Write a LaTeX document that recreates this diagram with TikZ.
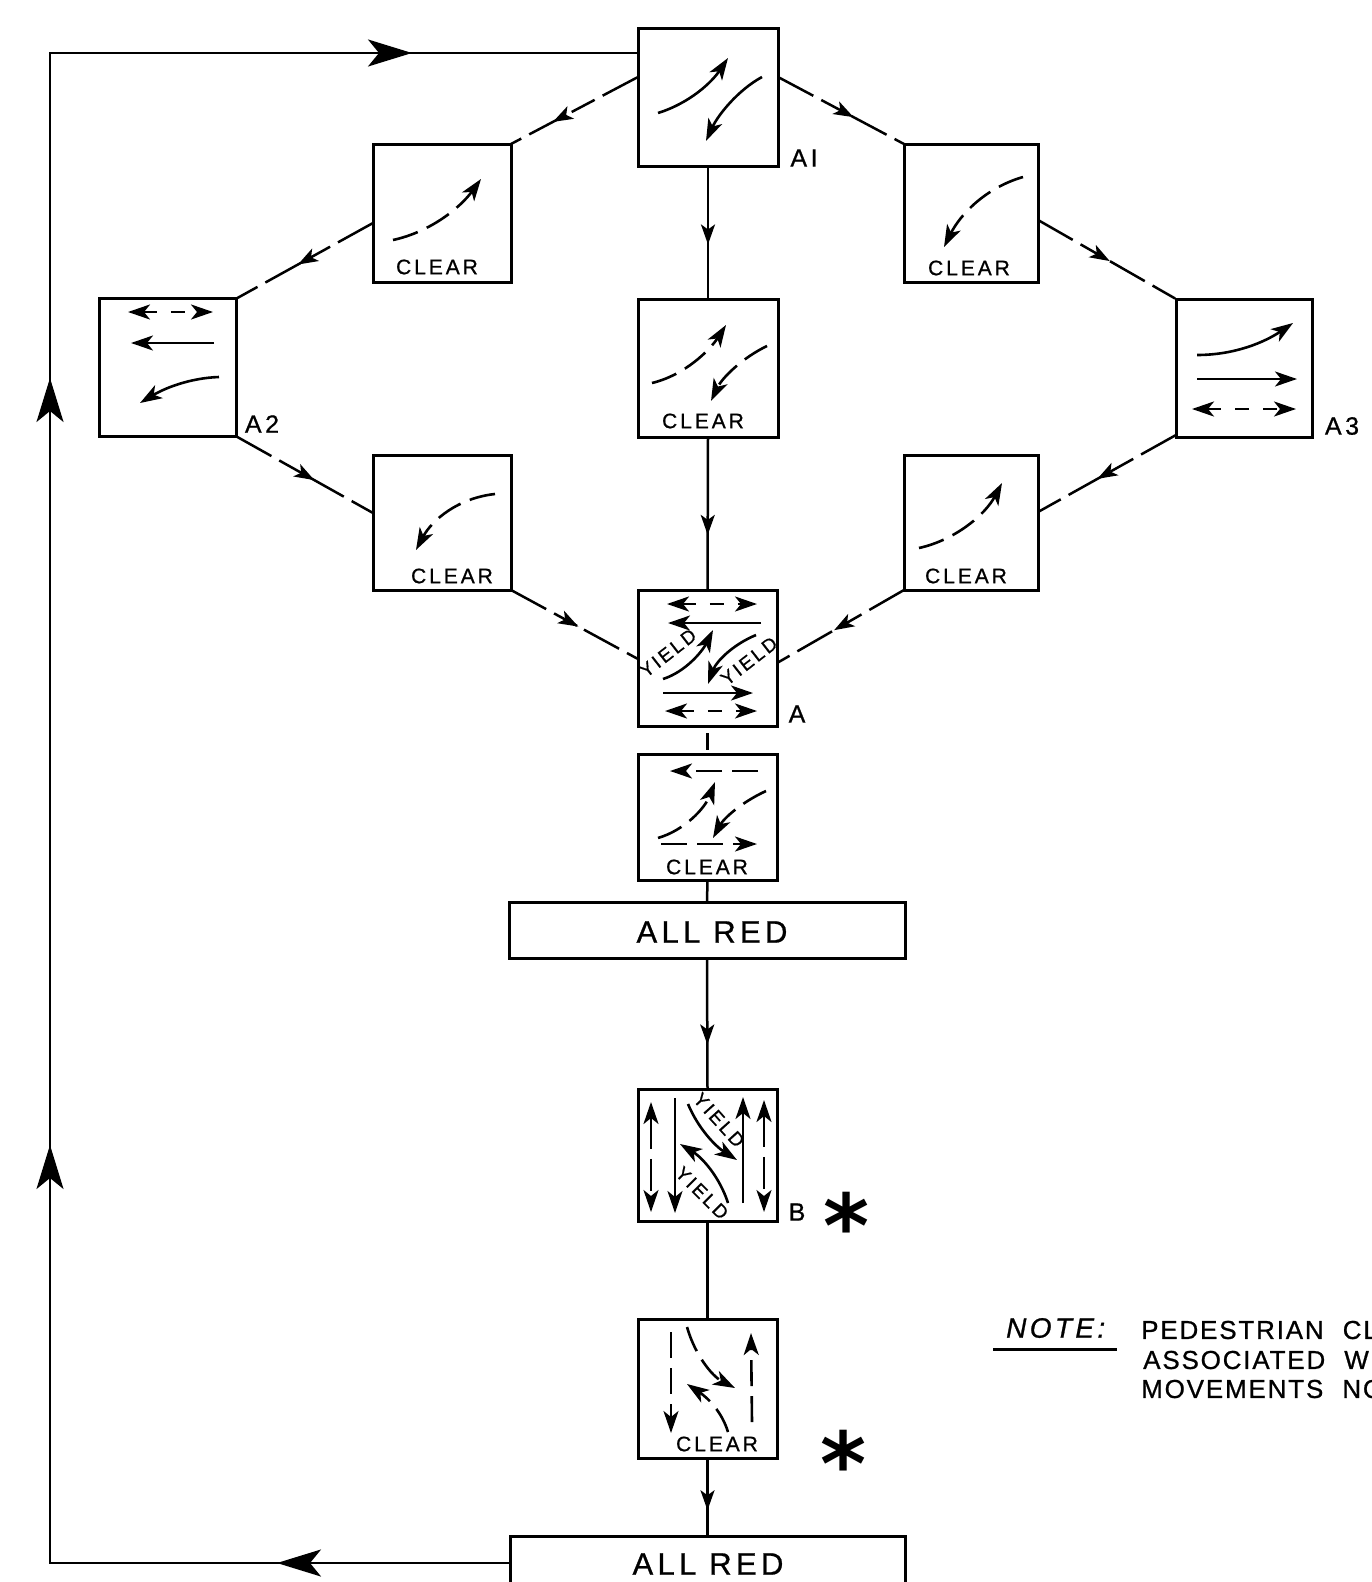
\documentclass[tikz,border=0pt]{standalone}
\usepackage{fontspec}
\usetikzlibrary{arrows.meta,calc,decorations.markings}
\setmainfont{Liberation Sans}
\newfontfamily\lblfont[LetterSpace=14,FakeBold=0.8]{Liberation Sans}
\newfontfamily\notefont[LetterSpace=7,FakeBold=0.8]{Liberation Sans}
\newfontfamily\noteit[LetterSpace=12,FakeBold=0.8]{Liberation Sans Italic}
\newfontfamily\starfont{DejaVu Sans Bold}
\tikzset{
  x=1pt,y=-1pt,
  bigtip/.tip={Stealth[length=44pt,width=27pt,inset=11pt]},
  smalltip/.tip={Stealth[length=20pt,width=14pt,inset=5pt]},
  intip/.tip={Stealth[length=22pt,width=15pt,inset=6pt]},
  bx/.style n args={2}{draw,rectangle,line width=3pt,inner sep=0pt,outer sep=0pt,minimum width=#1,minimum height=#2},
  conn/.style={line width=2.5pt},
  dconn/.style={line width=2.5pt,dash pattern=on 40pt off 9pt on 26pt off 8pt},
  conntip/.style={postaction={decorate},decoration={markings,mark=at position #1 with {\arrow{smalltip}}}},
  solidar/.style={line width=2.6pt,-{intip}},
  dashar/.style={line width=2.6pt,-{intip},dash pattern=on 26pt off 10pt},
  dashdbl/.style={line width=2.6pt,{intip}-{intip},dash pattern=on 14pt off 14pt},
  longdbl/.style={line width=2.6pt,{intip}-{intip},dash pattern=on 32pt off 10pt},
  clearlbl/.style={font=\lblfont\fontsize{21}{21}\selectfont,inner sep=0pt},
  yieldlbl/.style={font=\lblfont\fontsize{19}{19}\selectfont,inner sep=0pt},
  idlbl/.style={font=\lblfont\fontsize{25}{25}\selectfont,inner sep=0pt},
  redlbl/.style={font=\lblfont\fontsize{31}{31}\selectfont,inner sep=0pt},
  notelbl/.style={font=\notefont\fontsize{26}{26}\selectfont,inner sep=0pt,anchor=west},
  starlbl/.style={font=\starfont\fontsize{88}{88}\selectfont,inner sep=0pt},
}
\begin{document}
\begin{tikzpicture}
\useasboundingbox (0,0) rectangle (1372,1582);
\clip (0,0) rectangle (1372,1582);
% boxes
\node[bx={140pt}{138pt}] (A1) at (708,97) {};
\node[bx={138pt}{138pt}] (CL1) at (442,213) {};
\node[bx={134pt}{138pt}] (CR1) at (971,213) {};
\node[bx={137pt}{138pt}] (A2) at (168,367.5) {};
\node[bx={140pt}{138pt}] (C1) at (708,368) {};
\node[bx={136pt}{138pt}] (A3) at (1244,368) {};
\node[bx={138pt}{135pt}] (CL2) at (442,522.5) {};
\node[bx={134pt}{135pt}] (CR2) at (971,522.5) {};
\node[bx={139pt}{136pt}] (A) at (707.5,658) {};
\node[bx={139pt}{126pt}] (C2) at (707.5,817) {};
\node[bx={396pt}{56pt}] (AR1) at (707,930) {};
\node[bx={139pt}{132pt}] (B) at (707.5,1155) {};
\node[bx={139pt}{139pt}] (C3) at (707.5,1388.5) {};
\node[bx={395pt}{54pt}] (AR2) at (707.5,1563) {};
% outer loop
\draw[conn,postaction={decorate},decoration={markings,
  mark=at position 233pt with {\arrow{bigtip}},
  mark=at position 878pt with {\arrow{bigtip}},
  mark=at position 1645pt with {\arrow{bigtip}},
  mark=at position 2332pt with {\arrow{bigtip}}}]
  (AR2.west) -- (50,1563) -- (50,53) -- ($(A1.north west)+(0,25)$);
% vertical connectors
\draw[conn,conntip=0.59] (A1.south) -- (C1.north);
\draw[conn,conntip=0.64] (C1.south) -- (A.north);
\draw[line width=2.5pt,dash pattern=on 0pt off 7pt on 17pt off 10pt] (A.south) -- (C2.north);
\draw[conn] (C2.south) -- (AR1.north);
\draw[conn,conntip=0.66] (AR1.south) -- (B.north);
\draw[conn] (B.south) -- (C3.north);
\draw[conn,conntip=0.67] (C3.south) -- (AR2.north);
% diagonal connectors
\draw[dconn,conntip=0.67] ($(A1.north west)+(0,49)$) -- (CL1.north east);
\draw[dconn,conntip=0.55] ($(CL1.north west)+(0,79)$) -- (A2.north east);
\draw[dconn,conntip=0.57] (A2.south east) -- ($(CL2.north west)+(0,58)$);
\draw[dconn,conntip=0.53] (CL2.south east) -- ($(A.north west)+(0,69)$);
\draw[dconn,conntip=0.6] ($(A1.north east)+(0,49)$) -- (CR1.north west);
\draw[dconn,conntip=0.52] ($(CR1.north east)+(0,76)$) -- (A3.north west);
\draw[dconn,conntip=0.57] ($(A3.south west)+(0,-2)$) -- ($(CR2.north east)+(0,57)$);
\draw[dconn,conntip=0.55] (CR2.south west) -- ($(A.north east)+(0,73)$);
% A1
\draw[solidar] (658,113) .. controls (690,103) and (712,82) .. (728,58);
\draw[solidar] (762,77) .. controls (738,90) and (718,115) .. (706,141);
\node[idlbl] (lA1) at (804,158) {AI};
% CL1
\draw[dashar] (393,240) .. controls (430,232) and (460,208) .. (481,179);
\node[clearlbl] (tCL1) at (437,267) {CLEAR};
% CR1
\draw[dashar] (1023,177) .. controls (985,188) and (960,215) .. (944,247);
\node[clearlbl] (tCR1) at (969,268) {CLEAR};
% C1
\draw[dashar] (652,383) .. controls (685,375) and (710,350) .. (726,325);
\draw[dashar] (767,346) .. controls (742,358) and (722,378) .. (711,401);
\node[clearlbl] (tC1) at (703,421) {CLEAR};
% A2
\draw[dashdbl] (128,312) -- (213,312);
\draw[solidar] (214,343) -- (131,343);
\draw[solidar] (219,377) .. controls (190,378) and (165,388) .. (140,403);
\node[idlbl] (lA2) at (262,424) {A2};
% A3
\draw[solidar] (1197,355) .. controls (1235,355) and (1265,342) .. (1293,323);
\draw[solidar] (1197,379) -- (1297,379);
\draw[dashdbl] (1192,409) -- (1296,409);
\node[idlbl] (lA3) at (1342,426) {A3};
% CL2
\draw[dashar] (495,494) .. controls (458,498) and (432,520) .. (416,550);
\node[clearlbl] (tCL2) at (452,576) {CLEAR};
% CR2
\draw[dashar] (919,548) .. controls (955,540) and (985,515) .. (1002,483);
\node[clearlbl] (tCR2) at (966,576) {CLEAR};
% A
\draw[dashdbl] (667,604) -- (757,604);
\draw[solidar] (761,623) -- (668,623);
\draw[solidar] (663,679) .. controls (685,672) and (702,652) .. (713,630);
\draw[solidar] (756,635) .. controls (732,645) and (716,662) .. (708,684);
\draw[solidar] (663,693) -- (753,693);
\draw[dashdbl] (665,711) -- (757,711);
\node[yieldlbl,rotate=38] (tY1) at (668,653) {YIELD};
\node[yieldlbl,rotate=38] (tY2) at (749,661) {YIELD};
\node[idlbl] (lA) at (797,714) {A};
% C2
\draw[dashar] (758,771) -- (670,771);
\draw[dashar] (658,838) .. controls (685,830) and (705,808) .. (715,782);
\draw[dashar] (766,791) .. controls (742,802) and (724,818) .. (713,838);
\draw[dashar] (661,844) -- (757,844);
\node[clearlbl] (tC2) at (707,867) {CLEAR};
% ALL RED
\node[redlbl] (tAR1) at (712,932) {ALL RED};
\node[redlbl] (tAR2) at (708,1564) {ALL RED};
% B
\draw[longdbl] (651,1102) -- (651,1212);
\draw[solidar] (675,1098) -- (675,1213);
\draw[solidar] (688,1104) .. controls (698,1128) and (715,1146) .. (737,1160);
\draw[solidar] (728,1203) .. controls (720,1178) and (703,1158) .. (680,1144);
\draw[solidar] (743,1203) -- (743,1097);
\draw[longdbl] (764,1100) -- (764,1212);
\node[yieldlbl,rotate=-48] (tY3) at (719,1120) {YIELD};
\node[yieldlbl,rotate=-45] (tY4) at (702,1193) {YIELD};
\node[idlbl] (lB) at (797,1212) {B};
\node[starlbl] (s1) at (846,1225) {*};
% C3
\draw[dashar] (671,1332) -- (671,1433);
\draw[dashar] (687,1327) .. controls (695,1355) and (712,1376) .. (735,1388);
\draw[dashar] (728,1432) .. controls (722,1412) and (708,1398) .. (687,1384);
\draw[dashar] (752,1422) -- (751,1333);
\node[clearlbl] (tC3) at (717,1444) {CLEAR};
\node[starlbl] (s2) at (843,1463) {*};
% note
\node[font=\noteit\fontsize{28}{28}\selectfont,inner sep=0pt,anchor=west] (tNote) at (1006,1328) {NOTE:};
\coordinate (ul) at (993,1349);
\coordinate (ur) at (1117,1349);
\draw[line width=3pt] (ul) -- (ur);
\node[notelbl] (n1) at (1141,1330) {PEDESTRIAN\hspace{10pt} CL};
\node[notelbl] (n2) at (1143,1360) {ASSOCIATED\hspace{10pt} WI};
\node[notelbl] (n3) at (1141,1389) {MOVEMENTS\hspace{10pt} NO};
\end{tikzpicture}
\end{document}
